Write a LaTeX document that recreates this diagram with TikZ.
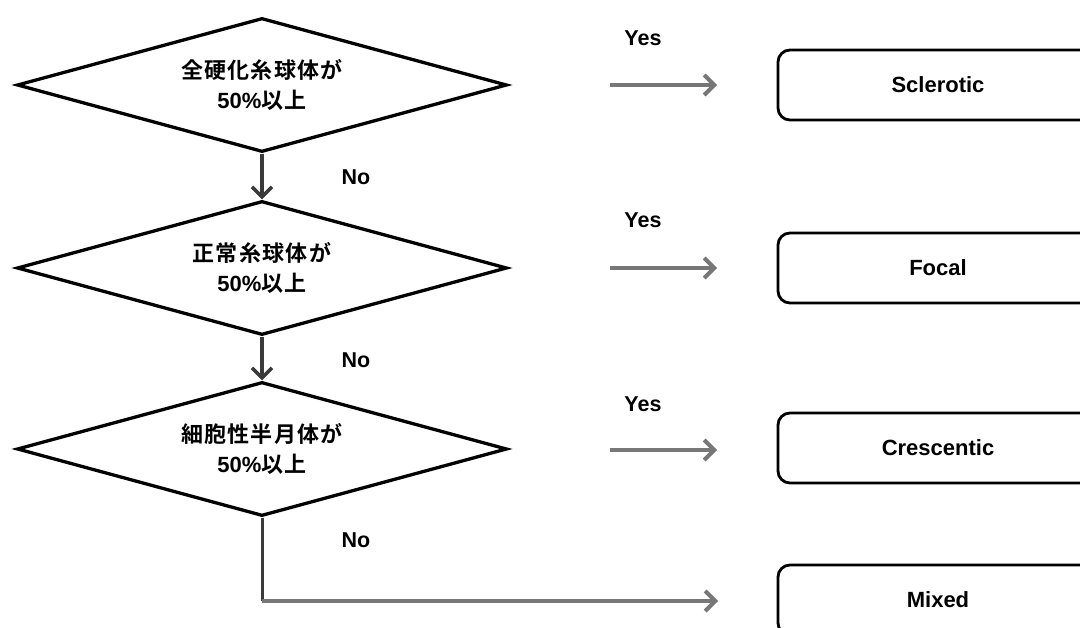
\documentclass[tikz,border=0pt]{standalone}
\usepackage{fontspec}
\setmainfont{Liberation Sans}
\newfontfamily\jp{Noto Sans CJK JP}[BoldFont={* Bold}, LetterSpace=6]
\newfontfamily\latnum{Liberation Sans}
\usetikzlibrary{shapes.geometric,arrows.meta}
\definecolor{arrgray}{HTML}{777777}
\definecolor{downgray}{HTML}{3A3A3A}
\tikzset{
  decision/.style={diamond, draw, line width=3.3pt, aspect=3.6,
    minimum width=490pt, minimum height=134pt, inner sep=0pt,
    align=center, font=\jp\bfseries\fontsize{22}{30}\selectfont},
  result/.style={draw, line width=2.8pt, rounded corners=12pt,
    minimum width=320pt, minimum height=70pt, inner sep=0pt,
    font=\bfseries\fontsize{22}{24}\selectfont},
  yesarrow/.style={draw=arrgray, line width=4.5pt,
    -{Straight Barb[length=10pt,width=20pt,line width=4pt]}},
  downarrow/.style={draw=downgray, line width=3.5pt,
    -{Straight Barb[length=10pt,width=20pt,line width=3.5pt]}},
  lbl/.style={font=\bfseries\fontsize{21.5}{24}\selectfont, inner sep=0pt}
}
\begin{document}
\begin{tikzpicture}[x=1pt,y=-1pt]
\useasboundingbox (0,0) rectangle (1080,628);
\fill[white] (0,0) rectangle (1080,628);
\begin{scope}
\clip (0,0) rectangle (1080,628);
% decisions
\node[decision] (d1) at (262,85) {全硬化糸球体が\\{\latnum\bfseries 50\%}以上};
\node[decision] (d2) at (262,268) {正常糸球体が\\{\latnum\bfseries 50\%}以上};
\node[decision] (d3) at (262,449) {細胞性半月体が\\{\latnum\bfseries 50\%}以上};
% results
\node[result] (r1) at (938,85) {Sclerotic};
\node[result] (r2) at (938,268) {Focal};
\node[result] (r3) at (938,448) {Crescentic};
\node[result] (r4) at (938,600) {Mixed};
% yes arrows
\coordinate (y1s) at (610,85);  \coordinate (y1e) at (717,85);
\coordinate (y2s) at (610,268); \coordinate (y2e) at (717,268);
\coordinate (y3s) at (610,450); \coordinate (y3e) at (717,450);
\draw[yesarrow] (y1s) -- (y1e);
\draw[yesarrow] (y2s) -- (y2e);
\draw[yesarrow] (y3s) -- (y3e);
\node[lbl] (yes1) at (643,38) {Yes};
\node[lbl] (yes2) at (643,220) {Yes};
\node[lbl] (yes3) at (643,404) {Yes};
% no arrows
\draw[downarrow] (d1.south) -- (d2.north);
\draw[downarrow] (d2.south) -- (d3.north);
\coordinate (corner) at (262,601);
\coordinate (mixend) at (718,601);
\draw[draw=downgray, line width=3pt] (d3.south) -- (corner);
\draw[yesarrow] (corner) -- (mixend);
\node[lbl] (no1) at (356,177) {No};
\node[lbl] (no2) at (356,360) {No};
\node[lbl] (no3) at (356,540) {No};
\end{scope}
\end{tikzpicture}
\end{document}
